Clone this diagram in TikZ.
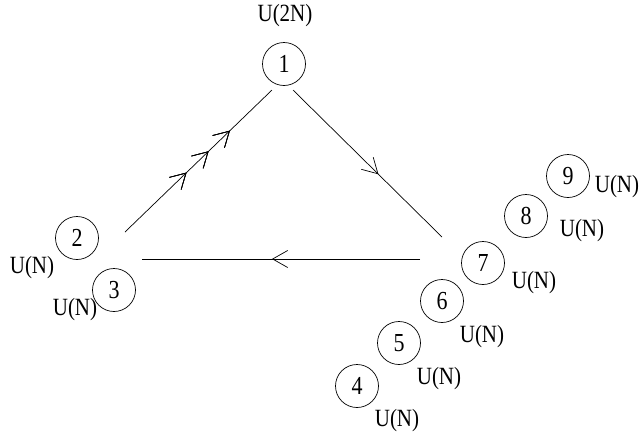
\documentclass[tikz,border=0pt]{standalone}
\usepackage{fontspec}
\setmainfont{Liberation Serif}
\usetikzlibrary{decorations.markings}
\newcommand{\tx}[1]{\scalebox{1}[1.18]{#1}}
\tikzset{
  grp/.style={draw, circle, minimum size=43pt, inner sep=0pt, line width=0.7pt, font=\fontsize{22}{24}\selectfont},
  lab/.style={inner sep=0pt, font=\fontsize{21}{24}\selectfont},
  edge/.style={line width=0.7pt},
  mk/.style={postaction={decorate}, decoration={markings, mark=at position #1 with {\draw[line width=0.7pt] (-15pt,8.5pt) -- (0pt,0pt) -- (-15pt,-8.5pt);}}}
}
\begin{document}
\begin{tikzpicture}[x=1pt,y=-1pt]
\useasboundingbox (0,0) rectangle (641,432);
\node[grp] (n1) at (284,64) {\tx{1}};
\node[grp] (n2) at (77,238) {\tx{2}};
\node[grp] (n3) at (114,290) {\tx{3}};
\node[grp] (n4) at (357,386) {\tx{4}};
\node[grp] (n5) at (399,343) {\tx{5}};
\node[grp] (n6) at (442,301) {\tx{6}};
\node[grp] (n7) at (483,263) {\tx{7}};
\node[grp] (n8) at (526,216) {\tx{8}};
\node[grp] (n9) at (568,176) {\tx{9}};
\node[lab] (l1) at (285,16) {\tx{U(2N)}};
\node[lab] (l2) at (32,268) {\tx{U(N)}};
\node[lab] (l3) at (75,310) {\tx{U(N)}};
\node[lab] (l4) at (397,421) {\tx{U(N)}};
\node[lab] (l5) at (439,379) {\tx{U(N)}};
\node[lab] (l6) at (482,337) {\tx{U(N)}};
\node[lab] (l7) at (534,283) {\tx{U(N)}};
\node[lab] (l8) at (582,231) {\tx{U(N)}};
\node[lab] (l9) at (617,187) {\tx{U(N)}};
\coordinate (a1) at (125,232);
\coordinate (a2) at (272,90);
\coordinate (b1) at (293,90);
\coordinate (b2) at (442,237);
\coordinate (c1) at (420,259);
\coordinate (c2) at (142,259);
\draw[edge, mk=0.415, mk=0.565, mk=0.71] (a1) -- (a2);
\draw[edge, mk=0.57] (b1) -- (b2);
\draw[edge, mk=0.53] (c1) -- (c2);
\end{tikzpicture}
\end{document}
